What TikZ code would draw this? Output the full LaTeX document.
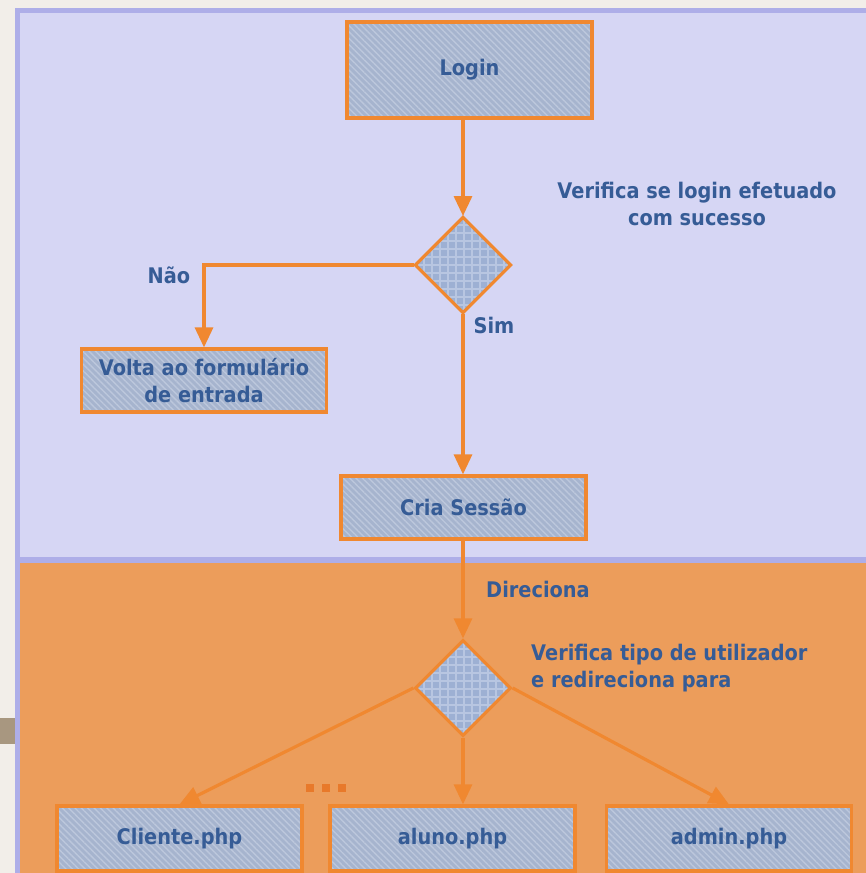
\documentclass[tikz,border=0pt]{standalone}
\usepackage{fontspec}
\setmainfont{DejaVu Sans}[FakeStretch=0.9]
\usetikzlibrary{arrows.meta,patterns.meta,shapes.geometric}
\definecolor{bgcream}{RGB}{242,238,233}
\definecolor{bgbrown}{RGB}{168,151,128}
\definecolor{panelblue}{RGB}{214,214,244}
\definecolor{panelborder}{RGB}{174,174,232}
\definecolor{panelorange}{RGB}{236,157,91}
\definecolor{lineorange}{RGB}{240,136,48}
\definecolor{dotorange}{RGB}{232,121,42}
\definecolor{boxfill}{RGB}{166,180,206}
\definecolor{boxstripe}{RGB}{188,199,220}
\definecolor{diafill}{RGB}{157,176,211}
\definecolor{diagrid}{RGB}{184,198,225}
\definecolor{txt}{RGB}{54,92,150}
\tikzset{
  lbl/.style={text=txt, font=\bfseries\fontsize{21.5}{27}\selectfont, inner sep=0pt},
  procbox/.style={draw=lineorange, line width=3.2pt, preaction={fill=boxfill},
    pattern={Lines[angle=-45,distance=4.5pt,line width=1.4pt]}, pattern color=boxstripe,
    text=txt, font=\bfseries\fontsize{21.5}{27}\selectfont, align=center,
    inner sep=0pt, minimum width=245pt},
  decision/.style={diamond, aspect=1, draw=lineorange, line width=3.2pt, preaction={fill=diafill},
    pattern={Hatch[angle=0,distance=8pt,line width=2pt]}, pattern color=diagrid,
    inner sep=0pt, minimum width=96pt, minimum height=96pt},
  conn/.style={draw=lineorange, line width=3.2pt},
  arr/.style={conn, -{Triangle[length=20pt,width=18pt]}},
}
\begin{document}
\begin{tikzpicture}[x=1pt,y=-1pt]
\useasboundingbox (0,0) rectangle (866,873);
% background and panels
\fill[bgcream] (0,0) rectangle (866,873);
\fill[bgbrown] (0,718) rectangle (15,744);
\fill[panelborder] (15,8) rectangle (870,880);
\fill[panelblue] (20,13) rectangle (870,557);
\fill[panelorange] (20,563) rectangle (870,880);

% nodes
\node[procbox, minimum height=96pt] (login) at (469.5,70) {Login};
\node[decision] (d1) at (463,265) {};
\node[procbox, minimum height=63pt] (volta) at (204,380.5) {Volta ao formulário\\de entrada};
\node[procbox, minimum height=63pt] (cria) at (463.5,507.5) {Cria Sessão};
\node[decision] (d2) at (463,688) {};
\node[procbox, minimum height=65pt] (cliente) at (179.5,838.5) {Cliente.php};
\node[procbox, minimum height=65pt] (aluno) at (452.5,838.5) {aluno.php};
\node[procbox, minimum height=65pt] (admin) at (729,838.5) {admin.php};

% labels
\node[lbl, align=center] (t1) at (697,204) {Verifica se login efetuado\\com sucesso};
\node[lbl] (nao) at (169,275) {Não};
\node[lbl] (sim) at (494,325) {Sim};
\node[lbl] (dir) at (538,589) {Direciona};
\node[lbl, align=left, anchor=west] (t2) at (531,668) {Verifica tipo de utilizador\\e redireciona para};

% dots
\foreach \xx in {306,322,338} {
  \fill[dotorange] (\xx,784) rectangle ++(8,8);
}

% connectors
\draw[arr] (login.south -| d1.north) -- (d1.north);
\draw[arr] (d1.west) -| (volta.north);
\draw[arr] (d1.south) -- (cria.north -| d1.south);
\draw[arr] (cria.south -| d2.north) -- (d2.north);
\draw[arr] (d2.west) -- (cliente.north);
\draw[arr] (d2.south) -- (aluno.north -| d2.south);
\draw[arr] (d2.east) -- (admin.north);
\end{tikzpicture}
\end{document}
